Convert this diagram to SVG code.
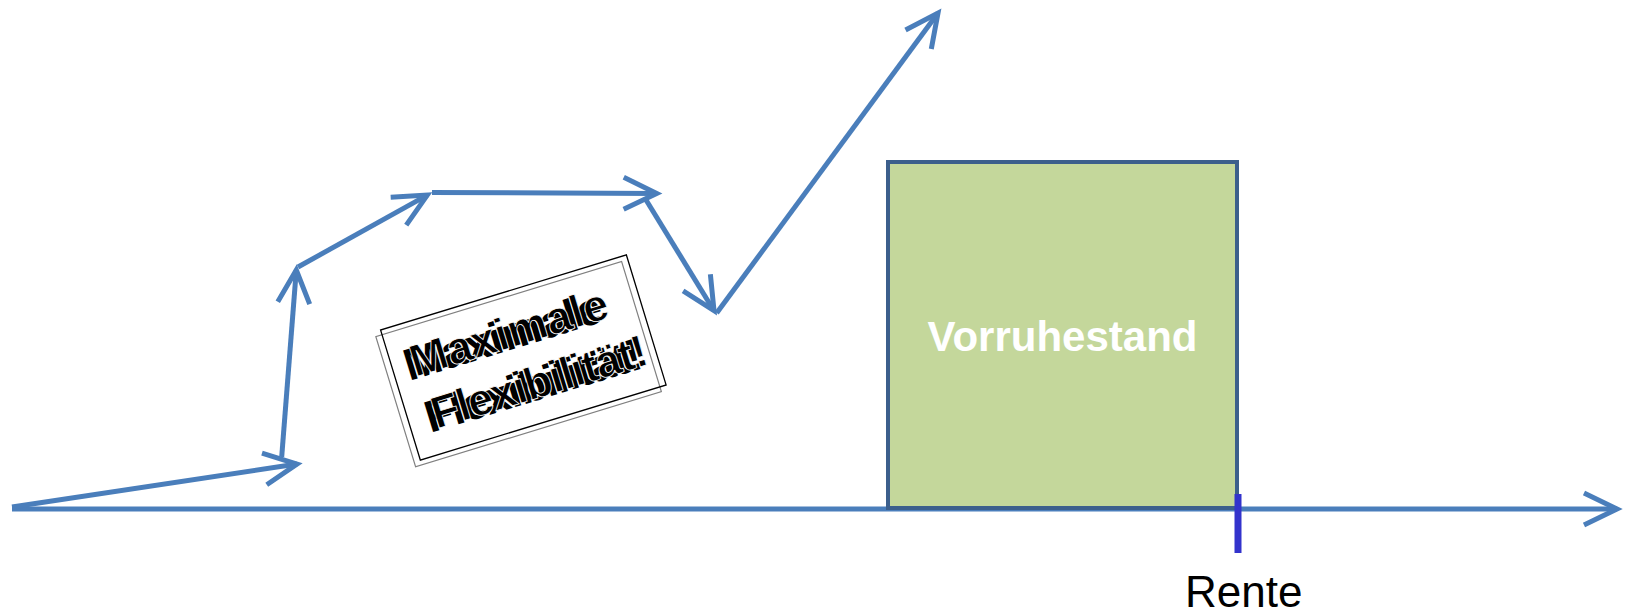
<svg xmlns="http://www.w3.org/2000/svg" width="1634" height="613" viewBox="0 0 1634 613">
<style>
.ar{fill:none;stroke:#4a7ebb;stroke-width:5;marker-end:url(#oa)}
.ttl{font-family:"Liberation Sans",Arial,sans-serif;font-weight:bold;font-size:42px}
.fx{font-family:"Liberation Sans",Arial,sans-serif;font-weight:bold;font-size:45px}
.lbl{font-family:"Liberation Sans",Arial,sans-serif;font-size:44px;fill:#000}
</style>
<defs>
<marker id="oa" markerUnits="userSpaceOnUse" markerWidth="80" markerHeight="80" refX="0" refY="0" orient="auto" overflow="visible">
<path d="M-33,-16 L0,0 L-33,16" fill="none" stroke="#4a7ebb" stroke-width="5" stroke-linejoin="miter" stroke-miterlimit="10"/>
</marker>
</defs>
<rect width="1634" height="613" fill="#fff"/>
<g id="connectors">
<line class="ar" x1="12" y1="509" x2="1617" y2="509"/>
<line class="ar" x1="12" y1="507" x2="297" y2="464"/>
<line class="ar" x1="281.7" y1="457" x2="296.3" y2="270"/>
<line class="ar" x1="298" y1="267" x2="427.3" y2="195.1"/>
<line class="ar" x1="432" y1="192.5" x2="656.7" y2="193.5"/>
<line class="ar" x1="645" y1="198.3" x2="714" y2="310.7"/>
<line class="ar" x1="716.7" y1="313" x2="938" y2="13"/>
</g>
<g id="vorruhestand">
<rect x="888" y="162" width="349" height="346" fill="#c4d79b" stroke="#3c5f8c" stroke-width="4"/>
<text class="ttl" x="1062.5" y="351" text-anchor="middle" fill="#fff">Vorruhestand</text>
</g>
<g id="rente">
<line x1="1238" y1="494" x2="1238" y2="553" stroke="#3333cc" stroke-width="7"/>
<text class="lbl" x="1185" y="607">Rente</text>
</g>
<g id="flexibilitaet" transform="translate(523.35,357.5) rotate(-17)">
<rect x="-135" y="-63" width="257" height="136" fill="none" stroke="#808080" stroke-width="1.2"/>
<rect x="-128.5" y="-68" width="257" height="136" fill="none" stroke="#000" stroke-width="1.3"/>
<g transform="translate(-7,2)">
<text class="fx" x="-109" y="-13" fill="#000" textLength="205">Maximale</text>
<text class="fx" x="-104" y="43" fill="#000" textLength="224">Flexibilität!</text>
</g>
<text class="fx" x="-109" y="-13" fill="#000" stroke="#fff" stroke-width="0.8" textLength="205">Maximale</text>
<text class="fx" x="-104" y="43" fill="#000" stroke="#fff" stroke-width="0.8" textLength="224">Flexibilität!</text>
</g>
</svg>
